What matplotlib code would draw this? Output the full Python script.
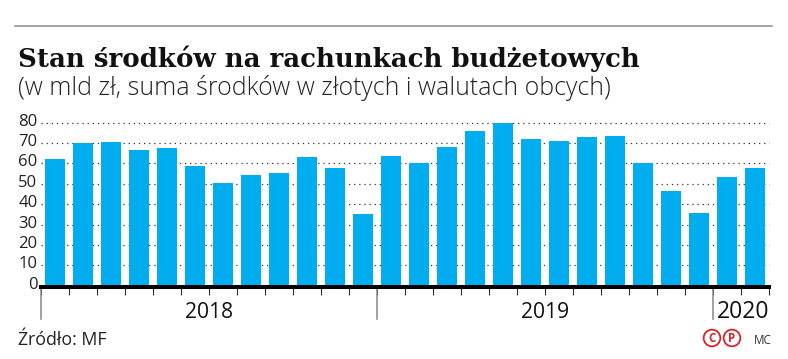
import matplotlib
matplotlib.use('Agg')
import matplotlib.pyplot as plt
from matplotlib.lines import Line2D
from matplotlib.transforms import ScaledTranslation

# Values (mld zl), one bar per month
values_2018 = [62, 69.9, 70.7, 66.4, 67.6, 58.9, 50.2, 54.3, 55.5, 63.2, 57.9, 35.4]
values_2019 = [63.8, 60, 68.2, 76.1, 80, 71.8, 71, 73.2, 73.5, 60.4, 46.5, 35.7]
values_2020 = [53.4, 57.6]
years = ['2018', '2019', '2020']
y_ticks = [0, 10, 20, 30, 40, 50, 60, 70, 80]

title = 'Stan środków na rachunkach budżetowych'
subtitle = '(w mld zł, suma środków w złotych i walutach obcych)'

W, H = 788, 359
BLUE = '#00adef'
SANS = 'Open Sans'

values = values_2018 + values_2019 + values_2020
n = len(values)
edges = [0, len(values_2018), len(values_2018) + len(values_2019), n]

fig = plt.figure(figsize=(W / 100, H / 100), dpi=100)
ax = fig.add_axes([41 / W, 1 - 285.7 / H, 728 / W, 163 / H])

# Bars and dotted grid
ax.bar([i + 0.5 for i in range(n)], values, width=0.72, color=BLUE, zorder=3, clip_on=False)
for t in y_ticks[1:]:
    ax.plot([0, n], [t, t], color='#333333', lw=0.9, ls=(0, (1, 3.1)), zorder=1, clip_on=False)

ax.set_xlim(0, n)
ax.set_ylim(0, 80)
for s in ['top', 'left', 'right']:
    ax.spines[s].set_visible(False)
ax.spines['bottom'].set_linewidth(2.9)
ax.spines['bottom'].set_zorder(5)
ax.spines['bottom'].set_position(('outward', 1))

# Month ticks, year separators
ax.set_xticks(range(n + 1))
ax.set_xticklabels([])
ax.tick_params(axis='x', length=6, width=0.8, color='#333333')
for e in edges[:-1]:
    ax.plot([e, e], [0, -16.4], color='#888888', lw=1.1, clip_on=False, zorder=2)

# y labels sit a little above their grid lines
ax.set_yticks(y_ticks)
ax.set_yticklabels([str(t) for t in y_ticks], fontsize=12, family=SANS, color='#222222')
ax.tick_params(axis='y', length=0, pad=2.5)
for lab in ax.get_yticklabels():
    lab.set_transform(lab.get_transform() + ScaledTranslation(0, 3 / 100, fig.dpi_scale_trans))

# Year labels
for k, yr in enumerate(years):
    mid = (edges[k] + edges[k + 1]) / 2
    size = 16.5 if yr == '2020' else 15.2
    ax.text(mid + (0.07 if yr == '2020' else 0), -16, yr, fontsize=size, family=SANS,
            color='#111111', ha='center', va='baseline')

# Header and footer
fig.add_artist(Line2D([15 / W, 772 / W], [1 - 25.5 / H] * 2, color='#8a8a8a', lw=1.1))
fig.text(18 / W, 1 - 67 / H, title, fontsize=18.7, family='DejaVu Serif', weight='bold',
         color='#111111', va='baseline')
fig.text(18 / W, 1 - 95 / H, subtitle, fontsize=17.9, family=SANS, weight='light',
         color='#222222', va='baseline')
fig.text(18 / W, 1 - 345 / H, 'Źródło: MF', fontsize=12.8, family=SANS, color='#222222', va='baseline')
fig.text(763 / W, 1 - 344 / H, 'MC', fontsize=8.5, family=SANS, color='#333333', va='baseline', ha='center')
for cx, ch in [(712, 'C'), (732, 'P')]:
    fig.text(cx / W, 1 - 338 / H, ch, fontsize=8.3, family=SANS, weight='bold', color='#d8232a',
             ha='center', va='center',
             bbox=dict(boxstyle='circle,pad=0.16', fc='white', ec='#d8232a', lw=1.3))

fig.savefig('out.png', dpi=100)
